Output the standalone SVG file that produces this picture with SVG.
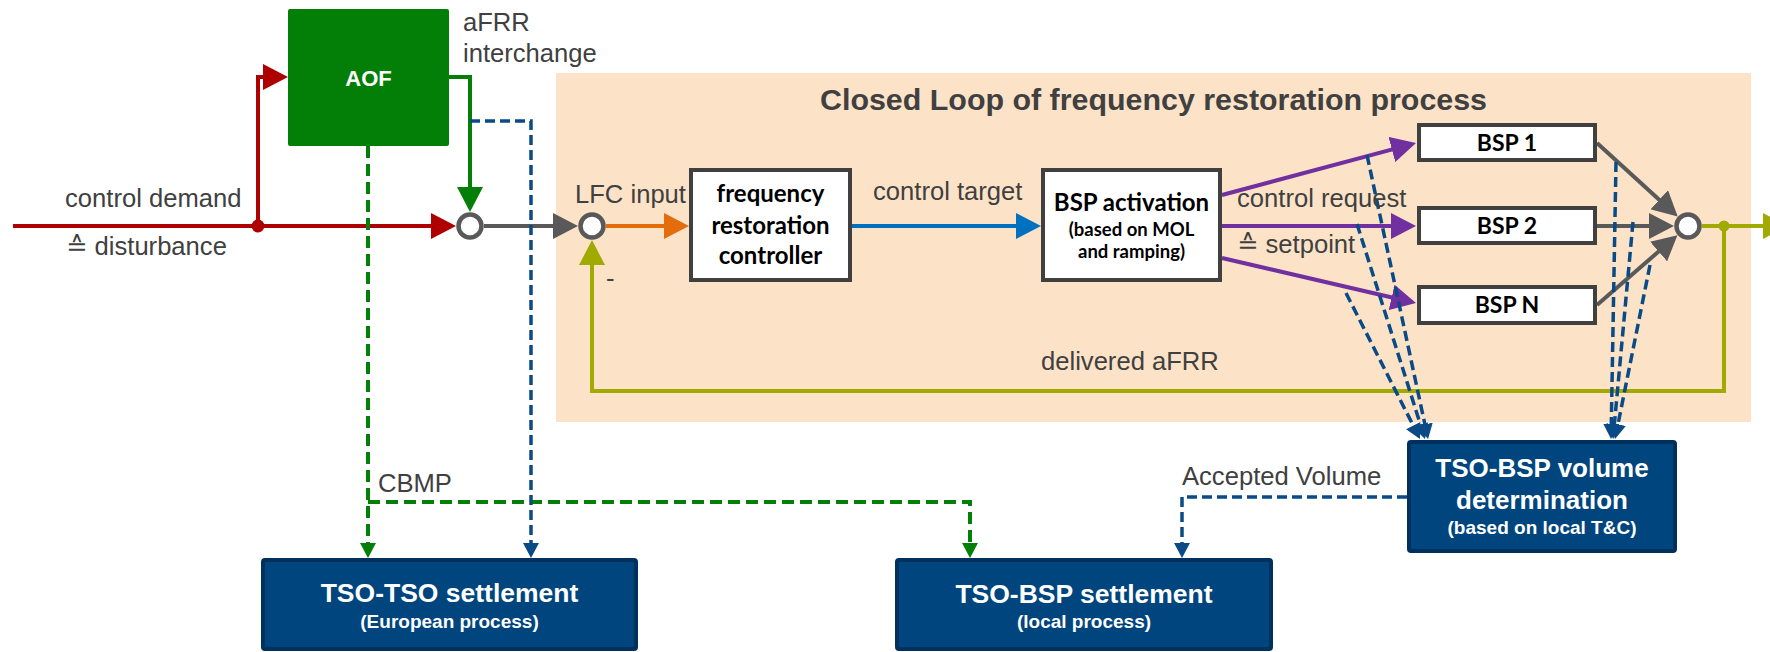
<svg xmlns="http://www.w3.org/2000/svg" width="1770" height="652" viewBox="0 0 1770 652">
  <style>
    .lbl { font-family: "Liberation Sans", Arial, "DejaVu Sans", sans-serif; font-size: 25.6px; fill: #404040; }
    .title { font-family: "Liberation Sans", Arial, sans-serif; font-size: 30.4px; font-weight: bold; fill: #404040; }
    .box { fill: #ffffff; stroke: #404040; stroke-width: 4; }
    .boxtxt { font-family: Lato, "Liberation Sans", sans-serif; font-weight: bold; fill: #000000; text-anchor: middle; }
    .dark { fill: #00457E; stroke: #00305C; stroke-width: 4; }
    .darktxt { font-family: "Liberation Sans", Arial, sans-serif; font-weight: bold; fill: #ffffff; text-anchor: middle; }
    .sum { fill: #ffffff; stroke: #595959; stroke-width: 4.5; }
    .ln { fill: none; stroke-width: 4; }
    .dash-blue { fill: none; stroke: #0A4A86; stroke-width: 3.5; stroke-dasharray: 10 5; }
    .dash-green { fill: none; stroke: #037F07; stroke-width: 4; stroke-dasharray: 12 6; }
  </style>
  <defs>
    <marker id="ah-red" markerUnits="userSpaceOnUse" markerWidth="26" markerHeight="26" refX="17" refY="13" orient="auto"><path d="M0,0 L25,13 L0,26 z" fill="#AE0000"/></marker>
    <marker id="ah-green" markerUnits="userSpaceOnUse" markerWidth="26" markerHeight="26" refX="17" refY="13" orient="auto"><path d="M0,0 L25,13 L0,26 z" fill="#037F07"/></marker>
    <marker id="ah-gray" markerUnits="userSpaceOnUse" markerWidth="26" markerHeight="26" refX="17" refY="13" orient="auto"><path d="M0,0 L25,13 L0,26 z" fill="#595959"/></marker>
    <marker id="ah-orange" markerUnits="userSpaceOnUse" markerWidth="26" markerHeight="26" refX="17" refY="13" orient="auto"><path d="M0,0 L25,13 L0,26 z" fill="#E46C0A"/></marker>
    <marker id="ah-blue" markerUnits="userSpaceOnUse" markerWidth="26" markerHeight="26" refX="17" refY="13" orient="auto"><path d="M0,0 L25,13 L0,26 z" fill="#0070C0"/></marker>
    <marker id="ah-purple" markerUnits="userSpaceOnUse" markerWidth="26" markerHeight="26" refX="17" refY="13" orient="auto"><path d="M0,0 L25,13 L0,26 z" fill="#7030A0"/></marker>
    <marker id="ah-olive" markerUnits="userSpaceOnUse" markerWidth="26" markerHeight="26" refX="17" refY="13" orient="auto"><path d="M0,0 L25,13 L0,26 z" fill="#A0AA00"/></marker>
    <marker id="ah-dblue" markerUnits="userSpaceOnUse" markerWidth="16" markerHeight="16" refX="11" refY="8" orient="auto"><path d="M0,0 L15,8 L0,16 z" fill="#0A4A86"/></marker>
    <marker id="ah-dgreen" markerUnits="userSpaceOnUse" markerWidth="16" markerHeight="16" refX="11" refY="8" orient="auto"><path d="M0,0 L15,8 L0,16 z" fill="#037F07"/></marker>
  </defs>

  <rect width="1770" height="652" fill="#ffffff"/>

  <!-- closed loop area -->
  <g id="closed-loop">
    <rect x="556" y="73" width="1195" height="349" fill="#FCE3C8"/>
    <text class="title" x="820" y="110">Closed Loop of frequency restoration process</text>
  </g>

  <g id="connectors">
    <!-- control demand into first summing point, branch to AOF -->
    <path class="ln" stroke="#AE0000" d="M13,226 H448" marker-end="url(#ah-red)"/>
    <path class="ln" stroke="#AE0000" d="M258,226 V77 H280" marker-end="url(#ah-red)"/>
    <circle cx="258" cy="226" r="6.5" fill="#AE0000"/>
    <!-- aFRR interchange -->
    <path class="ln" stroke="#037F07" d="M449,77 H470 V204" marker-end="url(#ah-green)"/>
    <!-- to LFC input -->
    <path class="ln" stroke="#595959" d="M484,226 H570" marker-end="url(#ah-gray)"/>
    <path class="ln" stroke="#E46C0A" d="M606,226 H681" marker-end="url(#ah-orange)"/>
    <path class="ln" stroke="#0070C0" d="M852,226 H1033" marker-end="url(#ah-blue)"/>
    <!-- control requests -->
    <path class="ln" stroke="#7030A0" d="M1222,195 L1408.3,145.1" marker-end="url(#ah-purple)"/>
    <path class="ln" stroke="#7030A0" d="M1222,226 H1408" marker-end="url(#ah-purple)"/>
    <path class="ln" stroke="#7030A0" d="M1222,258 L1408.2,301.2" marker-end="url(#ah-purple)"/>
    <!-- BSP outputs to summing point -->
    <path class="ln" stroke="#595959" d="M1597,143 L1671.8,211.2" marker-end="url(#ah-gray)"/>
    <path class="ln" stroke="#595959" d="M1597,226 H1666" marker-end="url(#ah-gray)"/>
    <path class="ln" stroke="#595959" d="M1597,305 L1671.4,240.4" marker-end="url(#ah-gray)"/>
    <!-- delivered aFRR feedback -->
    <path class="ln" stroke="#A0AA00" d="M1702,226 H1766"/>
    <polygon points="1763,213 1788,226 1763,239" fill="#A0AA00"/>
    <path class="ln" stroke="#A0AA00" d="M1724,226 V391 H592 V248" marker-end="url(#ah-olive)"/>
    <circle cx="1724" cy="226" r="5.5" fill="#A0AA00"/>

    <!-- settlement data flows -->
    <path class="dash-green" d="M368,146 V554" marker-end="url(#ah-dgreen)"/>
    <path class="dash-green" d="M368,502 H970 V554" marker-end="url(#ah-dgreen)"/>
    <path class="dash-blue" d="M470,121 H531 V554" marker-end="url(#ah-dblue)"/>
    <path class="dash-blue" d="M1407,497 H1182 V554" marker-end="url(#ah-dblue)"/>
    <path class="dash-blue" d="M1367,155 L1427.2,435.1" marker-end="url(#ah-dblue)"/>
    <path class="dash-blue" d="M1357,224 L1423.8,435.2" marker-end="url(#ah-dblue)"/>
    <path class="dash-blue" d="M1346,293 L1418.2,435.4" marker-end="url(#ah-dblue)"/>
    <path class="dash-blue" d="M1616,162 L1611.1,435" marker-end="url(#ah-dblue)"/>
    <path class="dash-blue" d="M1633,222 L1613.4,435" marker-end="url(#ah-dblue)"/>
    <path class="dash-blue" d="M1650,265 L1615.8,435.1" marker-end="url(#ah-dblue)"/>

    <!-- connector labels -->
    <text class="lbl" x="463" y="31">aFRR</text>
    <text class="lbl" x="463" y="62">interchange</text>
    <text class="lbl" x="65" y="207">control demand</text>
    <text class="lbl" x="66" y="255">≙ disturbance</text>
    <text class="lbl" x="575" y="203">LFC input</text>
    <text class="lbl" x="606" y="287">-</text>
    <text class="lbl" x="873" y="200">control target</text>
    <text class="lbl" x="1237" y="207">control request</text>
    <text class="lbl" x="1237" y="253">≙ setpoint</text>
    <text class="lbl" x="1041" y="370">delivered aFRR</text>
    <text class="lbl" x="378" y="492">CBMP</text>
    <text class="lbl" x="1182" y="485">Accepted Volume</text>
  </g>

  <g id="aof">
    <rect x="288" y="9" width="161" height="137" rx="2" fill="#037F07"/>
    <text class="darktxt" x="368.5" y="86" font-size="22">AOF</text>
  </g>

  <g id="sum-disturbance"><circle class="sum" cx="470" cy="226" r="11.5"/></g>
  <g id="sum-lfc"><circle class="sum" cx="592" cy="226" r="11.5"/></g>
  <g id="sum-bsp"><circle class="sum" cx="1688" cy="226" r="11.5"/></g>

  <g id="frequency-restoration-controller">
    <rect class="box" x="691" y="170" width="159" height="110"/>
    <text class="boxtxt" font-size="24" x="770.5" y="202">frequency</text>
    <text class="boxtxt" font-size="24" x="770.5" y="234">restoration</text>
    <text class="boxtxt" font-size="24" x="770.5" y="264">controller</text>
  </g>

  <g id="bsp-activation">
    <rect class="box" x="1043" y="170" width="177" height="110"/>
    <text class="boxtxt" font-size="24" x="1131.5" y="211">BSP activation</text>
    <text class="boxtxt" font-size="18.5" x="1131.5" y="236">(based on MOL</text>
    <text class="boxtxt" font-size="18.5" x="1131.5" y="258">and ramping)</text>
  </g>

  <g id="bsp-1">
    <rect class="box" x="1419" y="125" width="176" height="35"/>
    <text class="boxtxt" font-size="23" x="1507" y="151">BSP 1</text>
  </g>
  <g id="bsp-2">
    <rect class="box" x="1419" y="208" width="176" height="35"/>
    <text class="boxtxt" font-size="23" x="1507" y="234">BSP 2</text>
  </g>
  <g id="bsp-n">
    <rect class="box" x="1419" y="287" width="176" height="36"/>
    <text class="boxtxt" font-size="23" x="1507" y="313">BSP N</text>
  </g>

  <g id="tso-bsp-volume-determination">
    <rect class="dark" x="1409" y="442" width="266" height="109" rx="2"/>
    <text class="darktxt" font-size="26" x="1542" y="477">TSO-BSP volume</text>
    <text class="darktxt" font-size="26" x="1542" y="509">determination</text>
    <text class="darktxt" font-size="19" x="1542" y="534">(based on local T&amp;C)</text>
  </g>

  <g id="tso-tso-settlement">
    <rect class="dark" x="263" y="560" width="373" height="89" rx="2"/>
    <text class="darktxt" font-size="26.5" x="449.5" y="602">TSO-TSO settlement</text>
    <text class="darktxt" font-size="19" x="449.5" y="628">(European process)</text>
  </g>

  <g id="tso-bsp-settlement">
    <rect class="dark" x="897" y="560" width="374" height="89" rx="2"/>
    <text class="darktxt" font-size="26.5" x="1084" y="603">TSO-BSP settlement</text>
    <text class="darktxt" font-size="19" x="1084" y="628">(local process)</text>
  </g>
</svg>
